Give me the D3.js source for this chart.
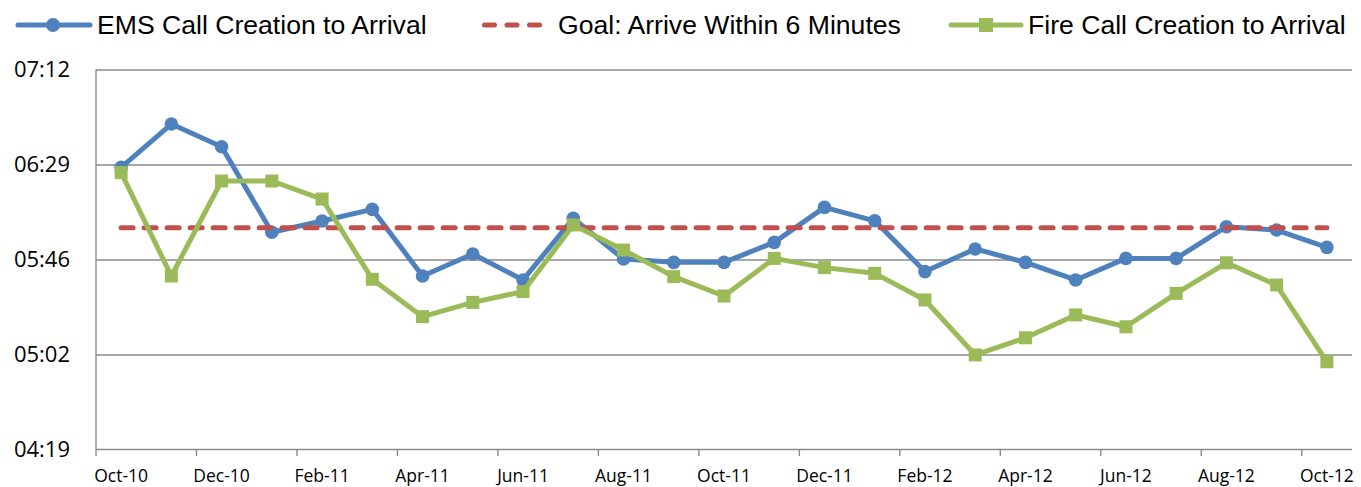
<!DOCTYPE html>
<html>
<head>
<meta charset="utf-8">
<script src="https://cdn.jsdelivr.net/npm/d3@7"></script>
<style>
  body { margin: 0; background: #fff; }
  svg { display: block; }
</style>
</head>
<body>
<svg id="chart"></svg>
<script>
// months on the category axis
const months = ["Oct-10","Nov-10","Dec-10","Jan-11","Feb-11","Mar-11","Apr-11","May-11","Jun-11",
                "Jul-11","Aug-11","Sep-11","Oct-11","Nov-11","Dec-11","Jan-12","Feb-12","Mar-12",
                "Apr-12","May-12","Jun-12","Jul-12","Aug-12","Sep-12","Oct-12"];

// response times in seconds
const emsSeconds = [387.5, 407.2, 396.9, 358.0, 363.1, 368.4, 338.1, 348.1, 336.3,
                    364.3, 345.8, 344.3, 344.3, 353.4, 369.3, 363.2, 340.1, 350.4,
                    344.3, 336.3, 346.1, 346.1, 360.5, 359.0, 351.1];
const fireSeconds = [385.1, 338.1, 381.3, 381.3, 373.1, 336.6, 319.6, 326.1, 331.0,
                     361.3, 349.9, 337.8, 329.0, 346.1, 341.9, 339.3, 327.2, 302.2,
                     310.0, 320.4, 315.0, 330.2, 344.1, 334.0, 299.1];
const goalSeconds = 360;

const yTickValues = [259.2, 302.4, 345.6, 388.8, 432];
const yTickLabels = ["04:19", "05:02", "05:46", "06:29", "07:12"];

const legendLabels = ["EMS Call Creation to Arrival", "Goal: Arrive Within 6 Minutes", "Fire Call Creation to Arrival"];

const width = 1361, height = 487;
const plotLeft = 96, plotRight = 1352, plotTop = 69.5, plotBottom = 449.5;
const blue = "#4F81BD", red = "#C0504D", green = "#9BBB59", grid = "#8A8A8A";

const svg = d3.select("#chart").attr("width", width).attr("height", height);

const x = d3.scaleBand().domain(months).range([plotLeft, plotRight]).padding(0);
const cx = m => x(m) + x.bandwidth() / 2;
const y = d3.scaleLinear().domain([yTickValues[0], yTickValues[yTickValues.length - 1]]).range([plotBottom, plotTop]);

// horizontal gridlines
svg.append("g")
    .attr("transform", `translate(${plotLeft},0)`)
    .call(d3.axisLeft(y).tickValues(yTickValues.slice(1)).tickSize(-(plotRight - plotLeft)).tickFormat(""))
    .call(g => g.select(".domain").remove())
    .call(g => g.selectAll("line").attr("stroke", grid).attr("stroke-width", 1.4));

// y axis labels
svg.append("g")
    .attr("transform", `translate(${plotLeft},0)`)
    .call(d3.axisLeft(y).tickValues(yTickValues).tickFormat((d, i) => yTickLabels[i]).tickSize(0).tickPadding(26))
    .call(g => g.select(".domain").remove())
    .call(g => g.selectAll("text")
        .attr("font-family", "'Open Sans', sans-serif")
        .attr("font-size", "22px")
        .attr("fill", "#000"));

// y axis line
svg.append("line")
    .attr("x1", plotLeft).attr("x2", plotLeft).attr("y1", plotTop).attr("y2", plotBottom)
    .attr("stroke", grid).attr("stroke-width", 1.4);

// x axis line and tick marks (category boundaries, every 2nd month)
svg.append("line")
    .attr("x1", plotLeft).attr("x2", plotRight).attr("y1", plotBottom).attr("y2", plotBottom)
    .attr("stroke", grid).attr("stroke-width", 1.4);

const everyOther = months.filter((m, i) => i % 2 === 0);
svg.append("g").selectAll("line")
    .data(everyOther)
    .join("line")
    .attr("x1", d => x(d)).attr("x2", d => x(d))
    .attr("y1", plotBottom).attr("y2", plotBottom + 6.5)
    .attr("stroke", grid).attr("stroke-width", 1.4);

svg.append("g").selectAll("text")
    .data(everyOther)
    .join("text")
    .attr("x", d => cx(d))
    .attr("y", 482)
    .attr("text-anchor", "middle")
    .attr("font-family", "'Open Sans', sans-serif")
    .attr("font-size", "17.5px")
    .attr("fill", "#000")
    .text(d => d);

const line = d3.line().x(d => cx(d.m)).y(d => y(d.v));

// EMS series
const emsData = months.map((m, i) => ({ m, v: emsSeconds[i] }));
svg.append("path")
    .datum(emsData)
    .attr("d", line)
    .attr("fill", "none").attr("stroke", blue).attr("stroke-width", 5).attr("stroke-linejoin", "round");
svg.append("g").selectAll("circle")
    .data(emsData)
    .join("circle")
    .attr("cx", d => cx(d.m)).attr("cy", d => y(d.v)).attr("r", 6.8)
    .attr("fill", blue);

// goal line
const goalData = months.map(m => ({ m, v: goalSeconds }));
svg.append("path")
    .datum(goalData)
    .attr("d", line)
    .attr("fill", "none").attr("stroke", red).attr("stroke-width", 5)
    .attr("stroke-linecap", "round").attr("stroke-dasharray", "12,11");

// Fire series
const fireData = months.map((m, i) => ({ m, v: fireSeconds[i] }));
svg.append("path")
    .datum(fireData)
    .attr("d", line)
    .attr("fill", "none").attr("stroke", green).attr("stroke-width", 5).attr("stroke-linejoin", "round");
svg.append("g").selectAll("rect")
    .data(fireData)
    .join("rect")
    .attr("x", d => cx(d.m) - 6.5).attr("y", d => y(d.v) - 6.5)
    .attr("width", 13).attr("height", 13)
    .attr("fill", green);

// legend
const legend = svg.append("g").attr("font-family", "'Liberation Sans', Arial, sans-serif").attr("font-size", "26.6px");
const ly = 25;

legend.append("line").attr("x1", 18).attr("x2", 90).attr("y1", ly).attr("y2", ly)
    .attr("stroke", blue).attr("stroke-width", 5).attr("stroke-linecap", "round");
legend.append("circle").attr("cx", 53).attr("cy", ly).attr("r", 7).attr("fill", blue);
legend.append("text").attr("x", 97).attr("y", 34).text(legendLabels[0]);

legend.append("line").attr("x1", 484.5).attr("x2", 542).attr("y1", ly).attr("y2", ly)
    .attr("stroke", red).attr("stroke-width", 5).attr("stroke-linecap", "round")
    .attr("stroke-dasharray", "10,12.5");
legend.append("text").attr("x", 558).attr("y", 34).text(legendLabels[1]);

legend.append("line").attr("x1", 951).attr("x2", 1021).attr("y1", ly).attr("y2", ly)
    .attr("stroke", green).attr("stroke-width", 5).attr("stroke-linecap", "round");
legend.append("rect").attr("x", 986 - 7).attr("y", ly - 7).attr("width", 14).attr("height", 14).attr("fill", green);
legend.append("text").attr("x", 1028).attr("y", 34).text(legendLabels[2]);
</script>
</body>
</html>
